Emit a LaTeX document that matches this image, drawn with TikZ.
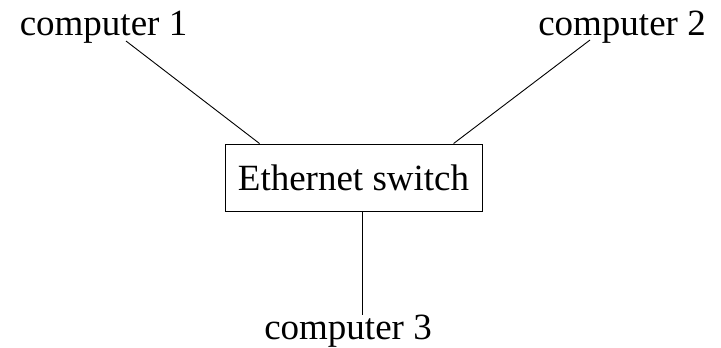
\documentclass[tikz,border=0pt]{standalone}
\usepackage{fontspec}
\setmainfont{Liberation Serif}
\usetikzlibrary{calc}
\begin{document}
\begin{tikzpicture}[x=1pt,y=-1pt,
  lbl/.style={font=\fontsize{37}{40}\selectfont, inner sep=0pt, anchor=base},
  box/.style={draw, line width=0.9pt, minimum width=257pt, minimum height=67pt, inner sep=0pt, font=\fontsize{37}{40}\selectfont},
  wire/.style={line width=0.9pt}]
\useasboundingbox (0,0) rectangle (721,348);
\node[lbl] (c1) at (103.5,35) {computer 1};
\node[lbl] (c2) at (622,35) {computer 2};
\node[lbl] (c3) at (348,339) {computer 3};
\node[box] (sw) at (353.5,177.5) {Ethernet switch};
\coordinate (e1) at (126,41);
\coordinate (e2) at (590,40);
\coordinate (e3) at (362,315);
\draw[wire] (e1) -- ($(sw.north west)+(35,0)$);
\draw[wire] (e2) -- ($(sw.north west)+(229,0)$);
\draw[wire] ($(sw.south)+(8.5,0)$) -- (e3);
\end{tikzpicture}
\end{document}
